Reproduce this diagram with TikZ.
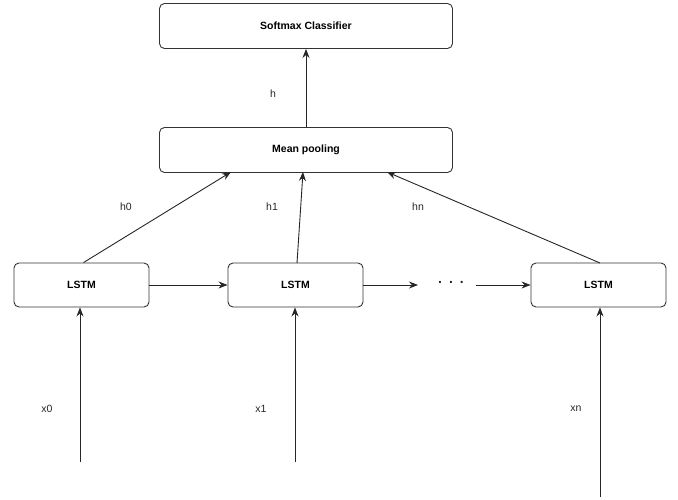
\documentclass[tikz,border=0pt]{standalone}
\usepackage{fontspec}
\setmainfont{Liberation Sans}
\usetikzlibrary{arrows.meta}
\begin{document}
\begin{tikzpicture}[x=1pt,y=-1pt,
  box/.style={draw=black!80, rounded corners=5pt, line width=0.9pt, fill=white, inner sep=0pt, font=\bfseries\fontsize{10.5}{12}\selectfont},
  conn/.style={draw=black!85, line width=0.9pt, -{Stealth[length=9pt,width=7pt]}},
  lbl/.style={font=\fontsize{10.5}{12}\selectfont, text=black!85}]
\useasboundingbox (0,0) rectangle (678,500);
\node[box, minimum width=293pt, minimum height=45pt] (soft) at (306,26) {Softmax Classifier};
\node[box, minimum width=293pt, minimum height=45pt] (mean) at (306,150) {Mean pooling};
\node[box, minimum width=135pt, minimum height=44pt] (l0) at (81.5,285) {LSTM};
\node[box, minimum width=135pt, minimum height=44pt] (l1) at (295.5,285) {LSTM};
\node[box, minimum width=135pt, minimum height=44pt] (l2) at (598.5,285) {LSTM};
\node[lbl, font=\bfseries\fontsize{14}{14}\selectfont] (dots) at (451,282) {.\hspace{7pt}.\hspace{7pt}.};
\coordinate (dl) at (418,285);
\coordinate (dr) at (476,285);
\coordinate (i0) at (80,462);
\coordinate (i1) at (295,462);
\coordinate (i2) at (600,497);
\draw[conn] (mean.north) -- (soft.south);
\draw[conn] (l0.north) ++(2,0) -- (231,172);
\draw[conn] (297,263) -- (303,172);
\draw[conn] (600,263) -- (387,172);
\draw[conn] (l0.east) -- (l1.west);
\draw[conn] (l1.east) -- (dl);
\draw[conn] (dr) -- (l2.west);
\draw[conn] (i0) -- (i0 |- l0.south);
\draw[conn] (i1) -- (i1 |- l1.south);
\draw[conn] (i2) -- (i2 |- l2.south);
\node[lbl] (lh) at (273,94) {h};
\node[lbl] (lh0) at (126,207) {h0};
\node[lbl] (lh1) at (272,207) {h1};
\node[lbl] (lhn) at (418,207) {hn};
\node[lbl] (lx0) at (47,409) {x0};
\node[lbl] (lx1) at (261,409) {x1};
\node[lbl] (lxn) at (576,409) {xn};
\end{tikzpicture}
\end{document}
